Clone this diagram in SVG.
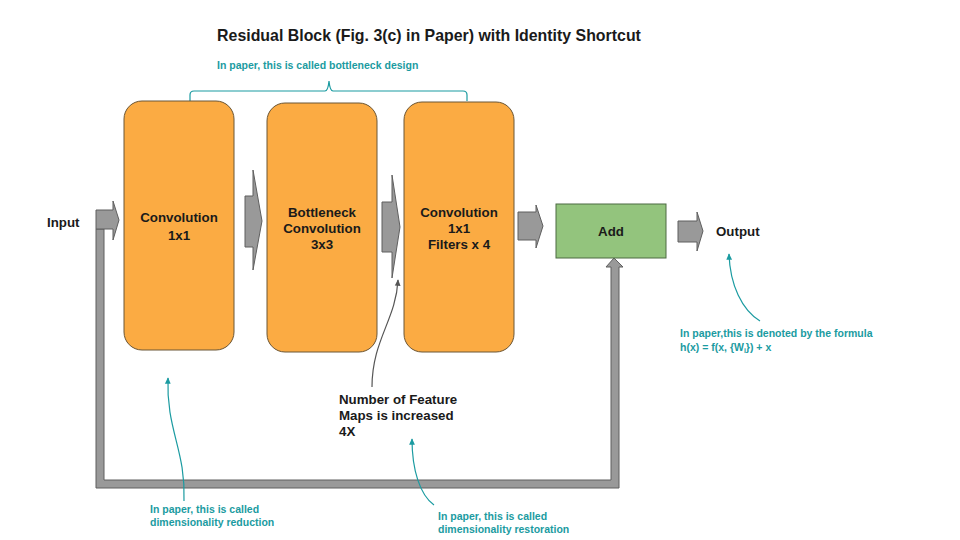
<svg xmlns="http://www.w3.org/2000/svg" width="960" height="540" viewBox="0 0 960 540">
<defs>
<style>
.box{fill:#fbab43;stroke:#6b5636;stroke-width:1}
.add{fill:#93c47d;stroke:#4d6b43;stroke-width:1}
.garrow{fill:#999999;stroke:#5f5f5f;stroke-width:1}
.t{font-family:"Liberation Sans",Arial,sans-serif;font-weight:bold;fill:#1a1a1a;font-size:13.3px}
.c{text-anchor:middle}
.teal{font-family:"Liberation Sans",Arial,sans-serif;font-weight:bold;fill:#1b9ba1;font-size:10.5px}
.tl{fill:none;stroke:#1b9ba1;stroke-width:1.2}
.dl{fill:none;stroke:#555555;stroke-width:1.2}
</style>
<marker id="mt" viewBox="0 0 10 10" refX="8" refY="5" markerWidth="6" markerHeight="6" orient="auto"><path d="M0,1 L9,5 L0,9 Z" fill="#1b9ba1"/></marker>
<marker id="md" viewBox="0 0 10 10" refX="8" refY="5" markerWidth="6" markerHeight="6" orient="auto"><path d="M0,1 L9,5 L0,9 Z" fill="#555555"/></marker>
</defs>
<rect width="960" height="540" fill="#ffffff"/>
<text class="t" x="429" y="41" text-anchor="middle" style="font-size:15.9px">Residual Block (Fig. 3(c) in Paper) with Identity Shortcut</text>
<text class="teal" x="217" y="69">In paper, this is called bottleneck design</text>
<path class="tl" d="M190,101 L190,95 Q190,91 194,91 L325,91 Q328,91 329,81 Q330,91 333,91 L463,91 Q467,91 467,95 L467,101"/>

<g id="connectors">
<!-- shortcut -->
<path class="garrow" d="M96,229 L104,229 L104,480 L611,480 L611,267 L606,267 L614,258 L623,267 L619,267 L619,488 L96,488 Z"/>
<!-- input arrow -->
<path id="arrow-input" class="garrow" d="M96,210 L113,210 L113,201 L119,220 L113,240 L113,229 L96,229 Z"/>
<path id="arrow-1-2" class="garrow" d="M245,196 L253,196 L253,170 L262,221 L253,270 L253,247 L245,247 Z"/>
<path id="arrow-2-3" class="garrow" d="M382,202 L392,202 L392,175 L400,227 L392,278 L392,252 L382,252 Z"/>
<path id="arrow-3-add" class="garrow" d="M518,212 L536,212 L536,205 L543,226 L536,248 L536,240 L518,240 Z"/>
<path id="arrow-add-out" class="garrow" d="M678,221 L697,221 L697,212 L703,231 L697,251 L697,242 L678,242 Z"/>
<!-- annotation arrows -->
<path class="dl" d="M372,387 C372,340 396,320 398,280" marker-end="url(#md)"/>
<path class="tl" d="M184,501 C186,450 166,430 168,378" marker-end="url(#mt)"/>
<path class="tl" d="M434,505 C420,495 412,470 412,439" marker-end="url(#mt)"/>
<path class="tl" d="M760,321 C742,310 730,285 729,254" marker-end="url(#mt)"/>
</g>

<g id="node-conv1">
<rect class="box" x="124" y="101" width="110" height="249" rx="18"/>
<text class="t c" x="179" y="222">Convolution</text>
<text class="t c" x="179" y="240">1x1</text>
</g>
<g id="node-conv2">
<rect class="box" x="267" y="103" width="110" height="249" rx="18"/>
<text class="t c" x="322" y="217">Bottleneck</text>
<text class="t c" x="322" y="233">Convolution</text>
<text class="t c" x="322" y="249">3x3</text>
</g>
<g id="node-conv3">
<rect class="box" x="404" y="102" width="110" height="250" rx="18"/>
<text class="t c" x="459" y="217">Convolution</text>
<text class="t c" x="459" y="233">1x1</text>
<text class="t c" x="459" y="249">Filters x 4</text>
</g>
<g id="node-add">
<rect class="add" x="556" y="204" width="110" height="54"/>
<text class="t c" x="611" y="236">Add</text>
</g>
<g id="node-input"><text class="t" x="47" y="227">Input</text></g>
<g id="node-output"><text class="t" x="716" y="236">Output</text></g>

<g id="labels">
<text class="t" x="339" y="404">Number of Feature</text>
<text class="t" x="339" y="420">Maps is increased</text>
<text class="t" x="339" y="436">4X</text>
<text class="teal" x="150" y="513">In paper, this is called</text>
<text class="teal" x="150" y="526">dimensionality reduction</text>
<text class="teal" x="438" y="520">In paper, this is called</text>
<text class="teal" x="438" y="533">dimensionality restoration</text>
<text class="teal" x="680" y="337">In paper,this is denoted by the formula</text>
<text class="teal" x="680" y="351">h(x) = f(x, {W<tspan font-size="7px" dy="2">i</tspan><tspan dy="-2">}) + x</tspan></text>
</g>
</svg>
